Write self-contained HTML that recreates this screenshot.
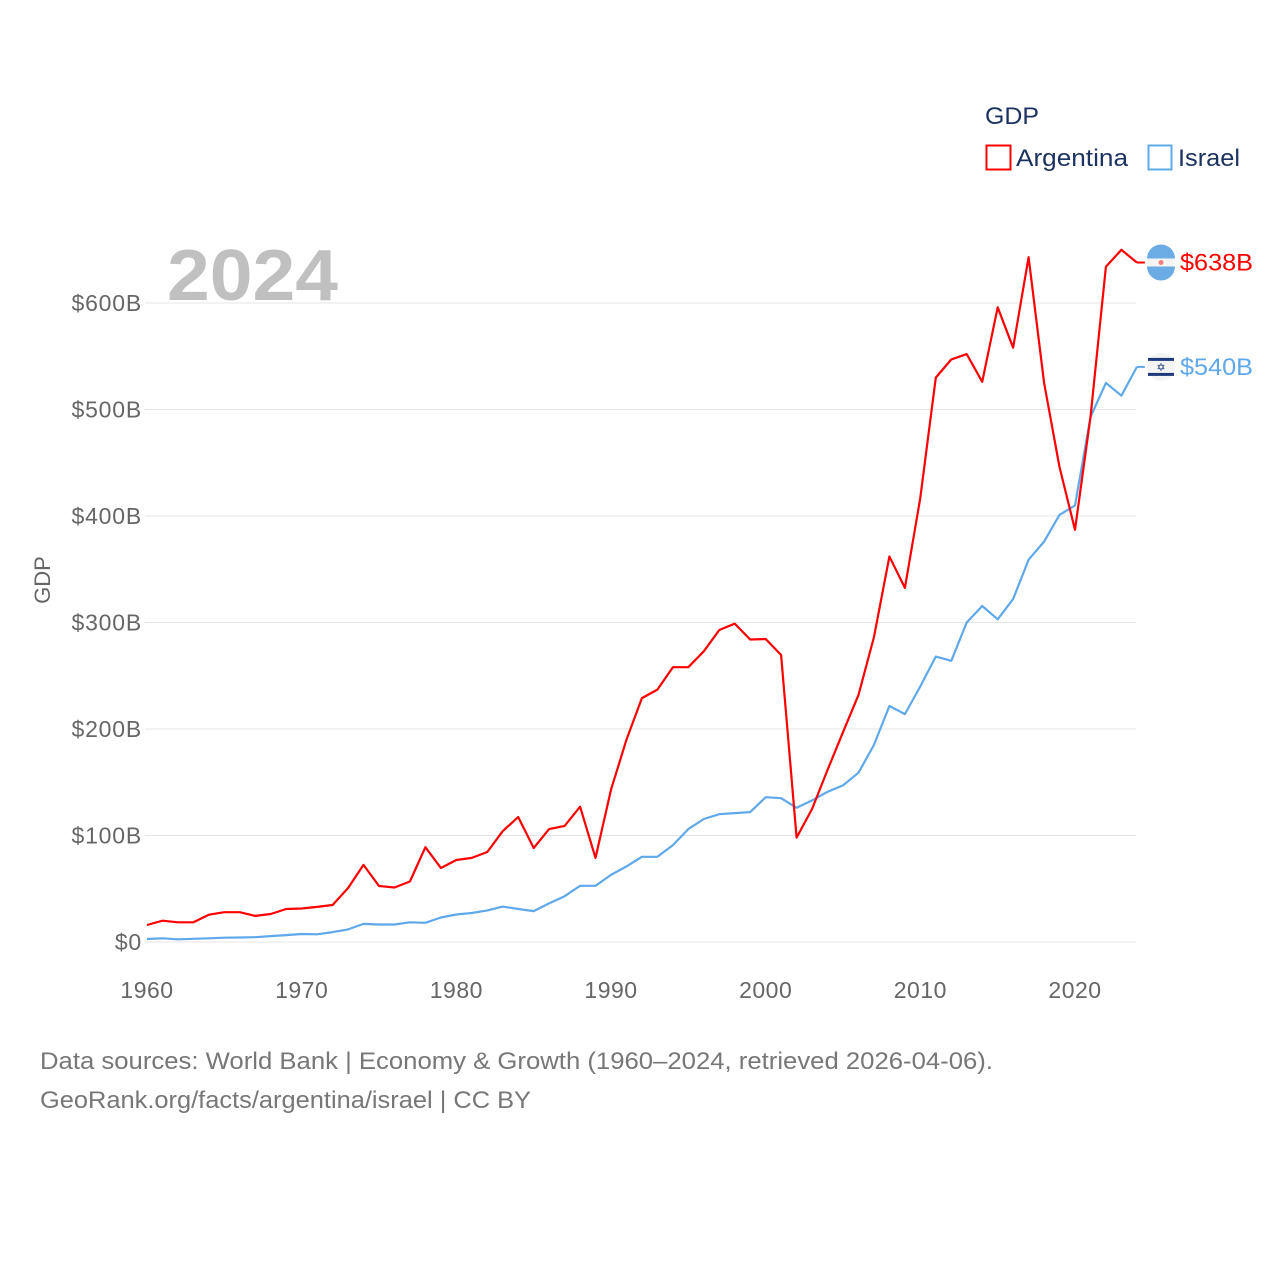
<!DOCTYPE html>
<html><head><meta charset="utf-8">
<style>
body{margin:0;background:#fff;}
svg{display:block;font-family:"Liberation Sans",sans-serif;}
</style></head>
<body>
<svg id="chart" width="1280" height="1280" viewBox="0 0 1280 1280">
  <g id="grid"></g>
  <g id="yticks"></g>
  <g id="xticks"></g>
  <text x="167" y="300" font-size="72" font-weight="bold" fill="#c0c0c0" textLength="171" lengthAdjust="spacingAndGlyphs">2024</text>
  <text transform="translate(50,580) rotate(-90)" text-anchor="middle" font-size="22" fill="#666">GDP</text>
  <g id="series"></g>
  <g id="endlabels"></g>
  <g>
    <text x="985" y="124" font-size="24" fill="#1c3260" textLength="54" lengthAdjust="spacingAndGlyphs">GDP</text>
    <g>
      <rect x="986.5" y="145.5" width="24" height="24" fill="none" stroke="#ff0000" stroke-width="2"/>
      <text x="1016" y="166" font-size="24" fill="#1c3260" textLength="112" lengthAdjust="spacingAndGlyphs">Argentina</text>
    </g>
    <g>
      <rect x="1148.5" y="145.5" width="23" height="24" fill="none" stroke="#5fa8ea" stroke-width="2"/>
      <text x="1178" y="166" font-size="24" fill="#1c3260" textLength="62" lengthAdjust="spacingAndGlyphs">Israel</text>
    </g>
  </g>
  <text x="40" y="1069" font-size="24" fill="#777" textLength="953" lengthAdjust="spacingAndGlyphs">Data sources: World Bank | Economy &amp; Growth (1960–2024, retrieved 2026-04-06).</text>
  <text x="40" y="1108" font-size="24" fill="#777" textLength="491" lengthAdjust="spacingAndGlyphs">GeoRank.org/facts/argentina/israel | CC BY</text>
</svg>
<script>
const years = [];
for (let y = 1960; y <= 2024; y++) years.push(y);
const argentina = [16,20,18.5,18.5,25.6,28,28,24.5,26.3,31,31.5,33,34.7,50.7,72.4,52.6,51.2,56.8,89,69.5,77,79,84.5,104,117.4,88.3,106,109,127,79,143,190,229,237,258,258,273,293,299,284,284.5,269.5,98,125,161.5,197,232,286,362,332.5,417,530,547,552,526,596,558,643,525,446,387,493,634,650,638];
const israel = [2.8,3.5,2.5,3,3.5,4,4.2,4.5,5.5,6.5,7.5,7.2,9.3,11.8,17,16.4,16.4,18.5,18,23,25.8,27.2,29.7,33.2,31,29,36.2,43,52.8,52.8,63,71,80,80,91,106,115.5,120,121,122,136,135,126,133,141,147,159,185,221.6,214,240,268,264,300,315.5,303,322,359,376,401,410,493,525,513,540];
const yTicks = [0,100,200,300,400,500,600];
const yTickLabels = ["$0","$100B","$200B","$300B","$400B","$500B","$600B"];
const xTicks = [1960,1970,1980,1990,2000,2010,2020];
const endLabels = ["$638B","$540B"];

const NS = "http://www.w3.org/2000/svg";
const x = v => 147 + (v - 1960) * (928 / 60);
const y = v => 942 - v * 1.065;
function mk(tag, attrs, parent){const e=document.createElementNS(NS,tag);for(const k in attrs)e.setAttribute(k,attrs[k]);parent.appendChild(e);return e;}

const grid=document.getElementById('grid'), yt=document.getElementById('yticks'), xt=document.getElementById('xticks');
yTicks.forEach((t,i)=>{
  const l=mk('line',{x1:145,x2:1136,y1:y(t),y2:y(t),stroke:'#e4e4e4','stroke-width':1},grid);
  
  
  const tx=mk('text',{x:142,y:y(t)+8,'text-anchor':'end','font-size':23,fill:'#666','letter-spacing':0.8},yt);
  tx.textContent=yTickLabels[i];
  
  
});
xTicks.forEach(t=>{
  const tx=mk('text',{x:x(t),y:998,'text-anchor':'middle','font-size':23,fill:'#666','letter-spacing':0.5},xt);
  tx.textContent=t;
  
  
});
const series=document.getElementById('series');
function line(vals,color,name){
  const d=vals.map((v,i)=>(i?'L':'M')+x(years[i]).toFixed(1)+' '+y(v).toFixed(1)).join(' ');
  const p=mk('path',{d:d,fill:'none',stroke:color,'stroke-width':2.2,'stroke-linejoin':'round'},series);
  
  
}
line(israel,'#5fa8ea','line-israel');
line(argentina,'#ff0000','line-argentina');

const el=document.getElementById('endlabels');
function endLabel(val,color,txt,name,flag){
  const yy=y(val), xe=x(2024);
  const c=mk('line',{x1:xe,x2:xe+8,y1:yy,y2:yy,stroke:color,'stroke-width':2},el);
  
  
  const g=mk('g',{},el);
  
  
  mk('circle',{cx:1161,cy:yy,r:14,fill:'#f4f4f4'},g);
  if(flag==='ar'){
    mk('path',{d:`M1147 ${yy-4} A14 14 0 0 1 1175 ${yy-4} Z`,fill:'#6cace4'},g);
    mk('path',{d:`M1147 ${yy+4} A14 14 0 0 0 1175 ${yy+4} Z`,fill:'#6cace4'},g);
    mk('circle',{cx:1161,cy:yy,r:2.5,fill:'#f08080'},g);
  } else {
    mk('rect',{x:1148,y:yy-9,width:26,height:3,fill:'#1c3a7a'},g);
    mk('rect',{x:1148,y:yy+6,width:26,height:3,fill:'#1c3a7a'},g);
    const s=mk('text',{x:1161,y:yy+4,'text-anchor':'middle','font-size':11,fill:'#1c3a7a'},g);
    s.textContent='✡';
  }
  const t=mk('text',{x:1180,y:yy+8,'font-size':24,fill:color,textLength:73,lengthAdjust:'spacingAndGlyphs'},el);
  t.textContent=txt;
  
  
}
endLabel(argentina[argentina.length-1],'#ff0000',endLabels[0],'argentina-end','ar');
endLabel(israel[israel.length-1],'#5fa8ea',endLabels[1],'israel-end','il');
</script>
</body></html>
